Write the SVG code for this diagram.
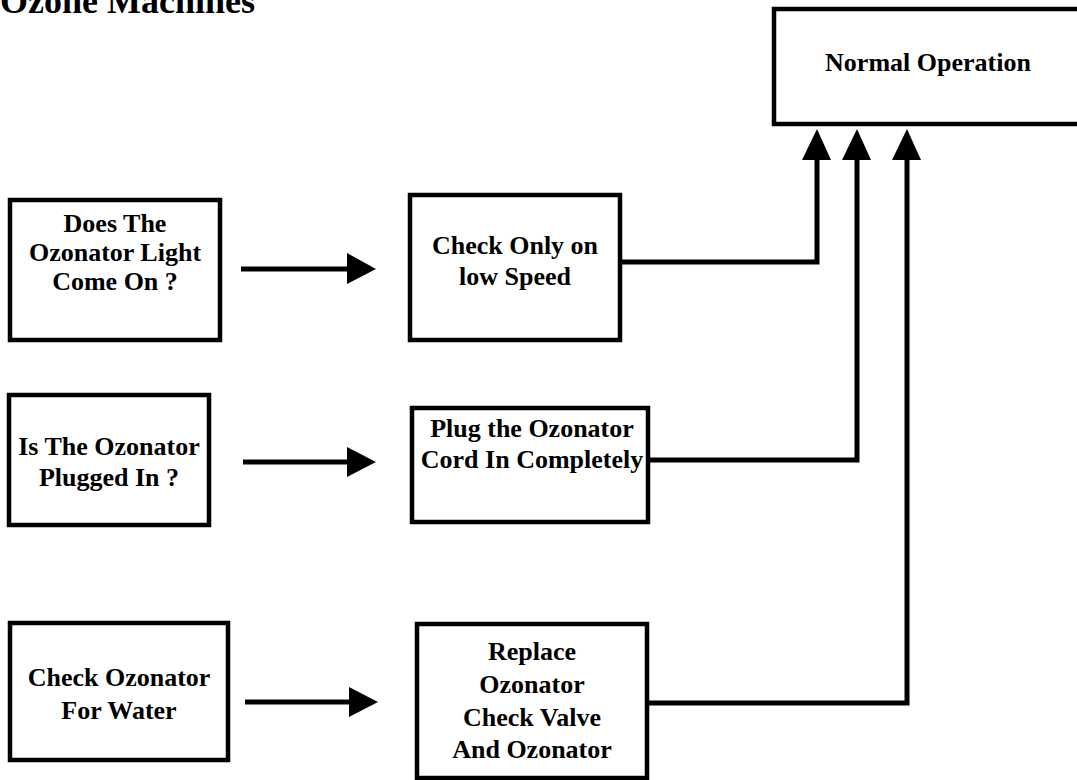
<svg xmlns="http://www.w3.org/2000/svg" width="1077" height="780" viewBox="0 0 1077 780">
<defs>
<style>
.box{fill:#fff;stroke:#000;stroke-width:4.5}
.t{font-family:"Liberation Serif","Times New Roman",serif;font-weight:bold;font-size:26px;fill:#000;text-anchor:middle}
.title{font-family:"Liberation Serif","Times New Roman",serif;font-weight:bold;font-size:36px;fill:#000}
.ln{fill:none;stroke:#000;stroke-width:5}
.ah{fill:#000}
</style>
</defs>
<rect width="1077" height="780" fill="#fff"/>
<text class="title" x="0" y="13">Ozone Machines</text>

<g id="normal">
<rect class="box" x="774" y="9" width="320" height="115"/>
<text class="t" x="928" y="71">Normal Operation</text>
</g>

<g id="q1">
<rect class="box" x="10" y="200" width="210" height="140"/>
<text class="t" x="115" y="232">Does The</text>
<text class="t" x="115" y="261">Ozonator Light</text>
<text class="t" x="115" y="290">Come On ?</text>
</g>
<g id="a1">
<rect class="box" x="410" y="195" width="210" height="145"/>
<text class="t" x="515" y="254">Check Only on</text>
<text class="t" x="515" y="285">low Speed</text>
</g>

<g id="q2">
<rect class="box" x="9" y="395" width="200" height="130"/>
<text class="t" x="109" y="455">Is The Ozonator</text>
<text class="t" x="109" y="486">Plugged In ?</text>
</g>
<g id="a2">
<rect class="box" x="412" y="408" width="236" height="114"/>
<text class="t" x="532" y="437">Plug the Ozonator</text>
<text class="t" x="532" y="468">Cord In Completely</text>
</g>

<g id="q3">
<rect class="box" x="10" y="623" width="218" height="137"/>
<text class="t" x="119" y="686">Check Ozonator</text>
<text class="t" x="119" y="719">For Water</text>
</g>
<g id="a3">
<rect class="box" x="417" y="624" width="230" height="154"/>
<text class="t" x="532" y="660">Replace</text>
<text class="t" x="532" y="693">Ozonator</text>
<text class="t" x="532" y="726">Check Valve</text>
<text class="t" x="532" y="758">And Ozonator</text>
</g>

<g id="connectors">
<line class="ln" x1="241" y1="269" x2="350" y2="269"/>
<polygon class="ah" points="347,253 376,269 347,284"/>
<line class="ln" x1="243" y1="462" x2="350" y2="462"/>
<polygon class="ah" points="347,447 376,462 347,477"/>
<line class="ln" x1="245" y1="702" x2="352" y2="702"/>
<polygon class="ah" points="349,687 378,702 349,717"/>

<polyline class="ln" points="620,262 817,262 817,155"/>
<polygon class="ah" points="802,160 817,129 831,160"/>
<polyline class="ln" points="648,460 857,460 857,155"/>
<polygon class="ah" points="842,160 857,129 871,160"/>
<polyline class="ln" points="647,703 907,703 907,155"/>
<polygon class="ah" points="892,160 907,129 921,160"/>
</g>
</svg>
